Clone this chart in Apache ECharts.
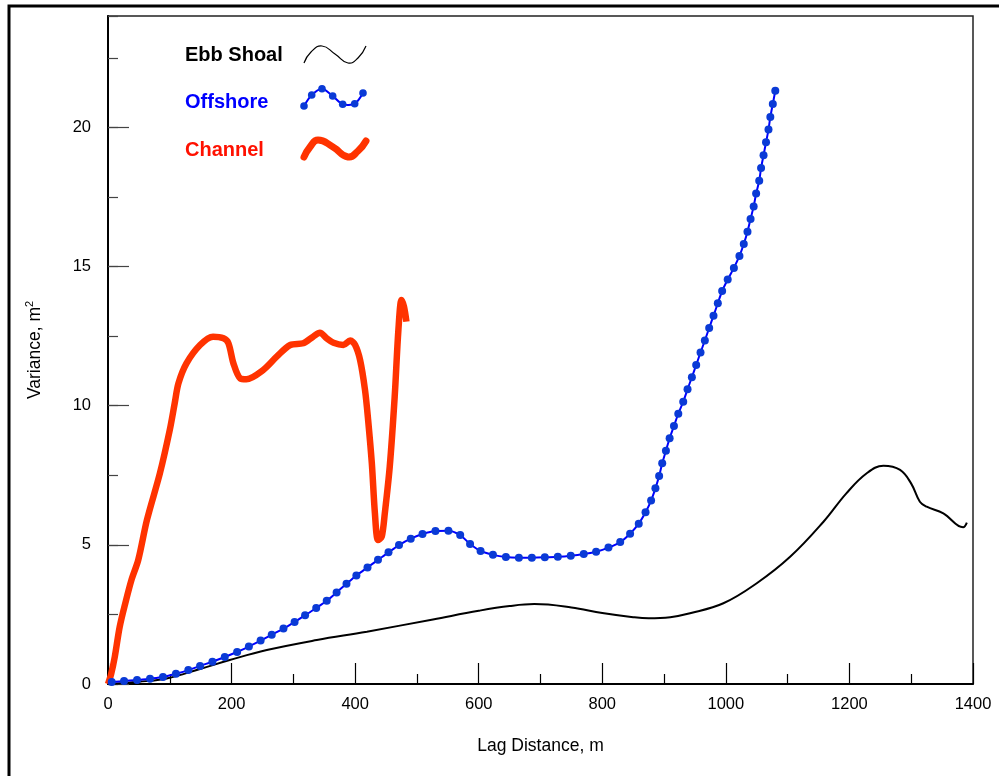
<!DOCTYPE html>
<html>
<head>
<meta charset="utf-8">
<script src="https://cdn.jsdelivr.net/npm/echarts@6/dist/echarts.min.js"></script>
<style>
  html, body { margin: 0; padding: 0; background: #fff; }
  #chart { width: 999px; height: 776px; }
</style>
</head>
<body>
<div id="chart"></div>
<script>
// lag distance (m) and variance (m^2)
var ebbX = [0, 50, 95, 149, 197, 257, 338, 419, 526, 600, 650, 690, 750, 800, 850, 875, 910, 942, 996, 1050, 1104, 1158, 1195, 1228, 1255, 1282, 1300, 1314, 1325, 1352, 1384, 1390];
var ebbY = [0, 0.08, 0.2, 0.54, 0.86, 1.22, 1.58, 1.88, 2.32, 2.63, 2.8, 2.87, 2.75, 2.55, 2.4, 2.36, 2.4, 2.54, 2.9, 3.62, 4.57, 5.83, 6.85, 7.57, 7.84, 7.69, 7.2, 6.55, 6.37, 6.13, 5.63, 5.8];

var offX = [6, 26, 47, 68, 89, 110, 130, 149, 169, 189, 209, 228, 247, 265, 284, 302, 319, 337, 354, 370, 386, 402, 420, 437, 454, 471, 490, 509, 530, 551, 570, 586, 603, 623, 644, 665, 686, 707, 728, 749, 770, 790, 810, 829, 845, 859, 870, 879, 886, 892, 897, 903, 909, 916, 923, 931, 938, 945, 952, 959, 966, 973, 980, 987, 994, 1003, 1013, 1022, 1029, 1035, 1040, 1045, 1049, 1054, 1057, 1061, 1065, 1069, 1072, 1076, 1080];
var offY = [0.07, 0.11, 0.14, 0.19, 0.25, 0.37, 0.5, 0.65, 0.8, 0.97, 1.15, 1.35, 1.56, 1.77, 1.99, 2.23, 2.47, 2.73, 2.99, 3.29, 3.6, 3.9, 4.19, 4.46, 4.73, 4.99, 5.22, 5.39, 5.5, 5.51, 5.35, 5.03, 4.78, 4.64, 4.56, 4.54, 4.54, 4.55, 4.57, 4.61, 4.67, 4.75, 4.9, 5.1, 5.4, 5.76, 6.17, 6.59, 7.03, 7.47, 7.93, 8.38, 8.83, 9.27, 9.71, 10.14, 10.59, 11.02, 11.46, 11.91, 12.34, 12.79, 13.23, 13.68, 14.12, 14.53, 14.95, 15.38, 15.81, 16.25, 16.71, 17.16, 17.62, 18.08, 18.54, 19.0, 19.46, 19.92, 20.37, 20.84, 21.31];

var chanX = [0, 5, 11, 19, 28, 38, 49, 63, 84, 100, 108, 114, 127, 149, 170, 187, 195, 203, 214, 224, 251, 273, 295, 316, 332, 343, 354, 365, 381, 392, 400, 408, 416, 421, 427, 432, 437, 443, 448, 456, 464, 470, 475, 479, 483];
var chanY = [0, 0.35, 0.98, 2.06, 2.9, 3.74, 4.46, 5.89, 7.57, 9.13, 10.09, 10.8, 11.52, 12.18, 12.48, 12.42, 12.24, 11.52, 10.98, 10.95, 11.28, 11.76, 12.18, 12.24, 12.48, 12.62, 12.42, 12.26, 12.18, 12.34, 12.18, 11.64, 10.56, 9.49, 7.93, 6.13, 5.17, 5.29, 6.13, 7.81, 10.32, 12.72, 13.8, 13.56, 13.02];

var xTicks = [0, 200, 400, 600, 800, 1000, 1200, 1400];
var yTicks = [0, 5, 10, 15, 20];

function pairs(xs, ys) {
  var out = [];
  for (var i = 0; i < xs.length; i++) out.push([xs[i], ys[i]]);
  return out;
}

var FONT = '"Liberation Sans", Arial, sans-serif';
var chart = echarts.init(document.getElementById('chart'));

var option = {
  animation: false,
  backgroundColor: '#fff',
  grid: {
    left: 108, right: 26, top: 16, bottom: 92,
    show: true, borderColor: '#222', borderWidth: 1.5, backgroundColor: 'transparent'
  },
  xAxis: {
    type: 'value', min: xTicks[0], max: xTicks[xTicks.length - 1], interval: 200,
    name: 'Lag Distance, m', nameLocation: 'middle', nameGap: 53,
    nameTextStyle: { color: '#000', fontSize: 17.5, fontFamily: FONT },
    axisLine: { lineStyle: { color: '#000', width: 2 } },
    axisTick: { inside: true, length: 21, lineStyle: { color: '#000', width: 1.2 } },
    minorTick: { show: true, splitNumber: 2, length: 10, lineStyle: { color: '#000', width: 1.2 } },
    axisLabel: { color: '#000', fontSize: 16.5, fontFamily: FONT, margin: 12,
      formatter: function (v) { return String(v); } },
    splitLine: { show: false }
  },
  yAxis: [
    {
      type: 'value', min: yTicks[0], max: 24, interval: 5, position: 'left',
      name: 'Variance, m{sup|2}', nameLocation: 'middle', nameGap: 62,
      nameTextStyle: {
        color: '#000', fontSize: 17.5, fontFamily: FONT,
        rich: { sup: { fontSize: 11, color: '#000', fontFamily: FONT, verticalAlign: 'top', padding: [0, 0, 11, 0] } }
      },
      axisLine: { show: true, lineStyle: { color: '#000', width: 2 } },
      axisTick: { inside: true, length: 21, lineStyle: { color: '#444', width: 1.2 } },
      axisLabel: { color: '#000', fontSize: 16.5, fontFamily: FONT, margin: 17, showMaxLabel: false },
      splitLine: { show: false }
    },
    {
      type: 'value', min: 0, max: 24, interval: 2.5, position: 'left', offset: 0,
      axisLine: { show: false },
      axisTick: { inside: true, length: 10, lineStyle: { color: '#444', width: 1.2 } },
      axisLabel: { show: false },
      splitLine: { show: false }
    }
  ],
  series: [
    {
      name: 'Channel', type: 'line', data: pairs(chanX, chanY), smooth: 0.3,
      showSymbol: false, lineStyle: { color: '#ff3300', width: 6.5 }, z: 2
    },
    {
      name: 'Ebb Shoal', type: 'line', data: pairs(ebbX, ebbY), smooth: 0.4,
      showSymbol: false, lineStyle: { color: '#000', width: 2 }, z: 3
    },
    {
      name: 'Offshore', type: 'line', data: pairs(offX, offY), smooth: 0.3,
      symbol: 'circle', symbolSize: 8, showSymbol: true,
      lineStyle: { color: '#0000ff', width: 2 },
      itemStyle: { color: '#0a3ad6', borderWidth: 0 }, z: 4
    }
  ],
  graphic: [
    { type: 'rect', silent: true, z: 0, shape: { x: 9, y: 6, width: 1100, height: 900 },
      style: { fill: 'none', stroke: '#000', lineWidth: 3 } },
    { type: 'text', style: { text: 'Ebb Shoal', x: 185, y: 55, verticalAlign: 'middle', fill: '#000', font: 'bold 20px ' + FONT } },
    { type: 'text', style: { text: 'Offshore', x: 185, y: 102, verticalAlign: 'middle', fill: '#0000ff', font: 'bold 20px ' + FONT } },
    { type: 'text', style: { text: 'Channel', x: 185, y: 150, verticalAlign: 'middle', fill: '#ff1100', font: 'bold 20px ' + FONT } },
    { type: 'polyline', shape: { points: [[304, 63], [311, 52], [322, 46], [335, 54], [348, 63], [358, 58], [366, 46]], smooth: 0.5 },
      style: { stroke: '#000', lineWidth: 1.2, fill: 'none' } },
    { type: 'polyline', shape: { points: [[304, 106], [311.7, 95], [322, 88.7], [332.7, 96], [342.7, 104.3], [354.7, 103.7], [363, 93]], smooth: 0.3 },
      style: { stroke: '#0000ff', lineWidth: 2, fill: 'none' } },
    { type: 'group', children: [[304, 106], [311.7, 95], [322, 88.7], [332.7, 96], [342.7, 104.3], [354.7, 103.7], [363, 93]].map(function (p) {
        return { type: 'circle', shape: { cx: p[0], cy: p[1], r: 3.8 }, style: { fill: '#0a3ad6' } };
      }) },
    { type: 'polyline', shape: { points: [[304, 157], [310, 147], [318, 140], [333, 147], [348, 157], [358, 151], [366, 141]], smooth: 0.5 },
      style: { stroke: '#ff3300', lineWidth: 7, fill: 'none', lineCap: 'round' } }
  ]
};

chart.setOption(option);
</script>
</body>
</html>
